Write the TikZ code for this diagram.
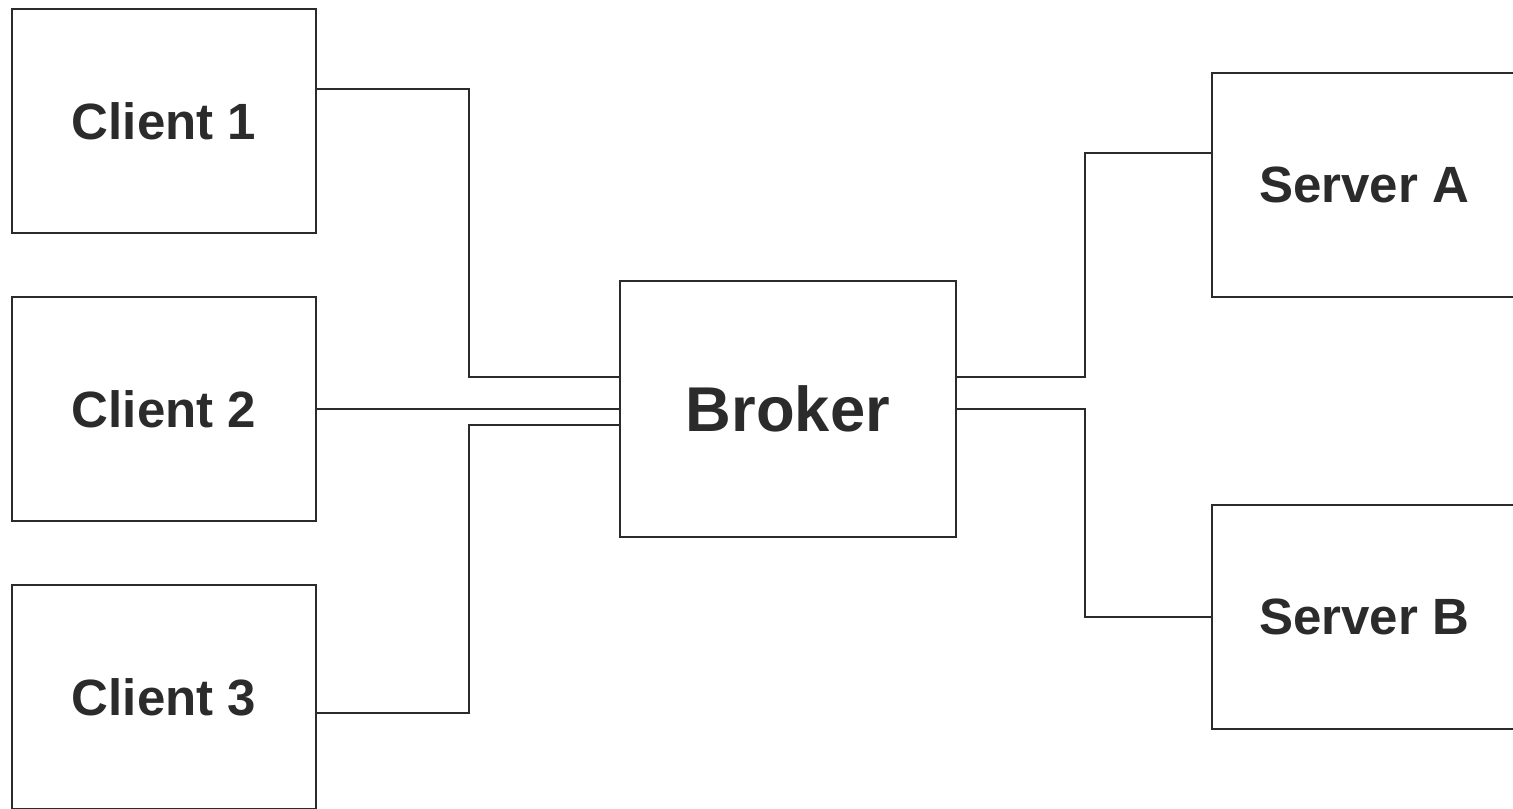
\documentclass[tikz,border=0pt]{standalone}
\usepackage{fontspec}
\setmainfont{Liberation Sans}
\definecolor{ink}{HTML}{2B2B2B}
\begin{document}
\begin{tikzpicture}[x=0.01cm,y=-0.01cm,
  box/.style={draw=ink,line width=0.6pt,fill=white,minimum width=3.04cm,minimum height=2.24cm,inner sep=0pt,text=ink,font=\fontsize{14.5}{16}\selectfont\bfseries},
  bigbox/.style={box,minimum width=3.36cm,minimum height=2.56cm,font=\fontsize{18}{20}\selectfont\bfseries},
  wire/.style={draw=ink,line width=0.6pt}]
\useasboundingbox (0,0) rectangle (1513,808);
\clip (0,0) rectangle (1513,808);
\node[box] (c1) at (164,121) {Client 1};
\node[box] (c2) at (164,409) {Client 2};
\node[box] (c3) at (164,697) {Client 3};
\node[bigbox] (broker) at (788,409) {Broker};
\node[box] (sa) at (1364,185) {Server A};
\node[box] (sb) at (1364,617) {Server B};
\draw[wire] ([yshift=0.32cm]c1.east) -- ++(152,0) |- ([yshift=0.32cm]broker.west);
\draw[wire] (c2.east) -- (broker.west);
\draw[wire] ([yshift=-0.16cm]c3.east) -- ++(152,0) |- ([yshift=-0.16cm]broker.west);
\draw[wire] ([yshift=0.32cm]broker.east) -- ++(128,0) |- ([yshift=0.32cm]sa.west);
\draw[wire] (broker.east) -- ++(128,0) |- (sb.west);
\end{tikzpicture}
\end{document}
